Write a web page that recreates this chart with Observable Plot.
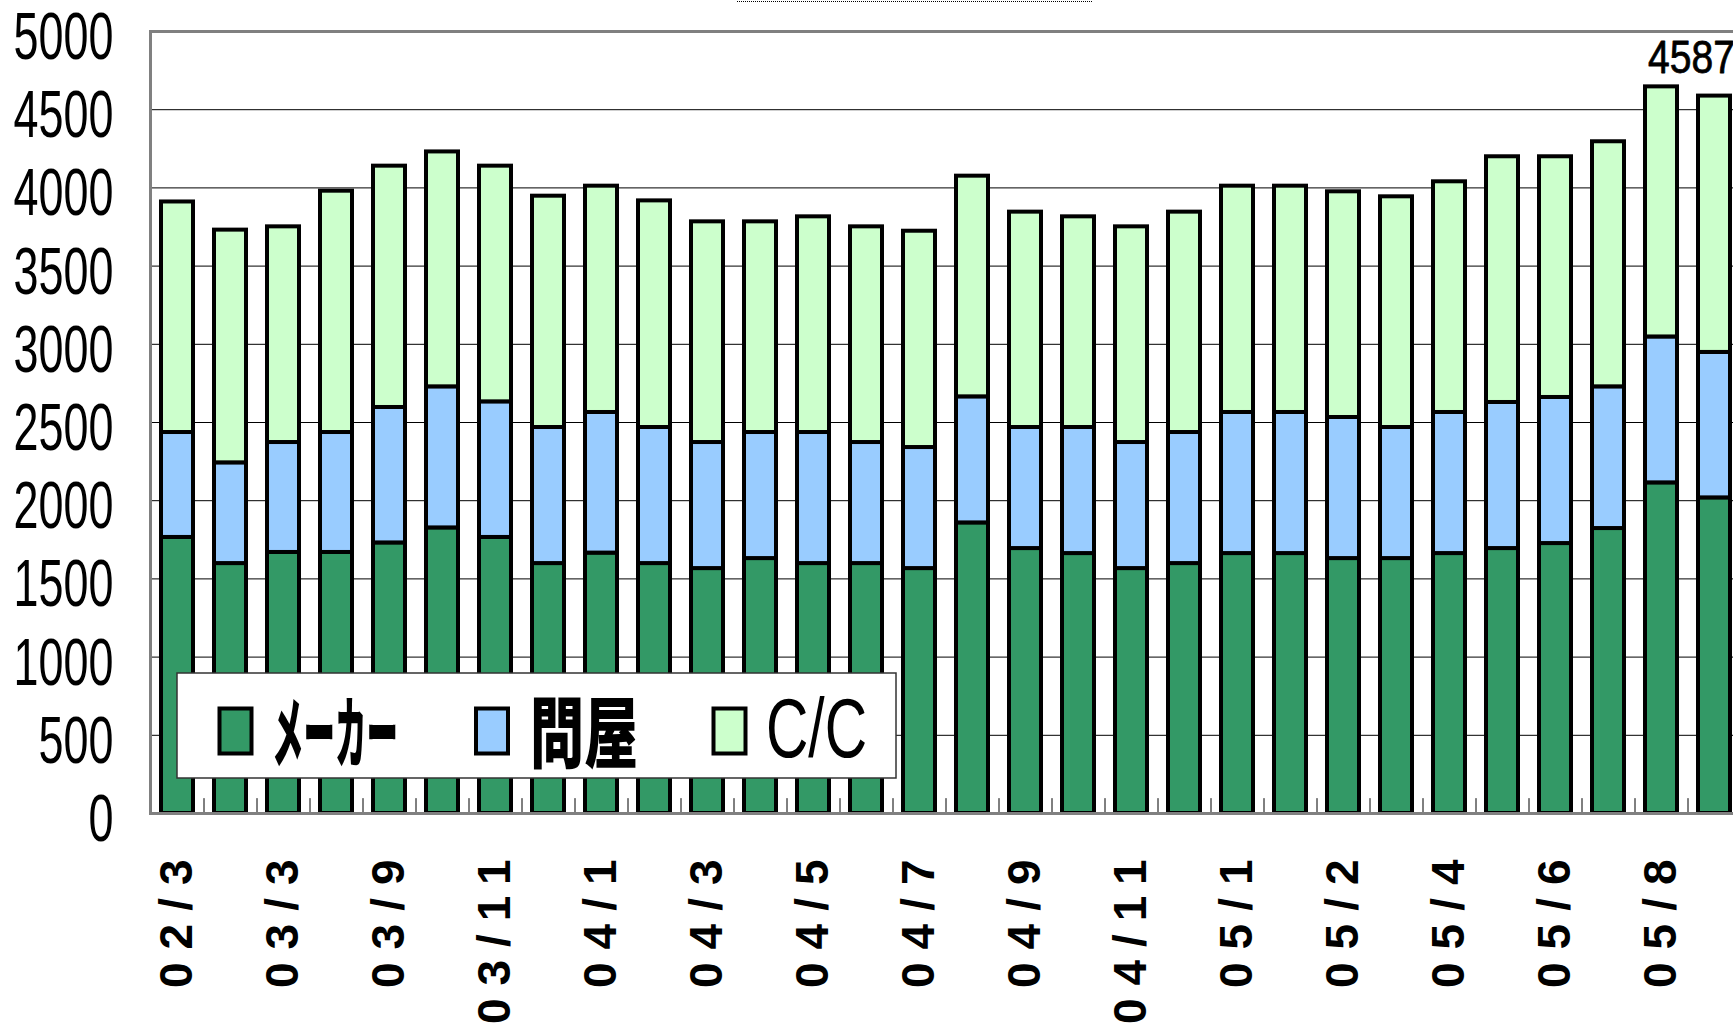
<!DOCTYPE html>
<html><head><meta charset="utf-8">
<script src="https://cdn.jsdelivr.net/npm/d3@7"></script>
<script src="https://cdn.jsdelivr.net/npm/@observablehq/plot@0.6"></script>
<style>
html,body{margin:0;padding:0;background:#fff;overflow:hidden;width:1733px;height:1028px;}
#wrap{position:relative;width:1733px;height:1028px;overflow:hidden;}
#titlebox{position:absolute;left:737px;top:-30px;width:355px;height:32px;border:1.5px dotted #000;box-sizing:border-box;z-index:2;}
</style></head><body><div id="wrap"><div id="titlebox"></div></div>
<script>
// ---- data ----
const tickLabels = ["02/3","","03/3","","03/9","","03/11","","04/1","","04/3","","04/5","","04/7","","04/9","","04/11","","05/1","","05/2","","05/4","","05/6","","05/8",""];
const series = ["メーカー","問屋","C/C"];
const colors = ["#339966","#99CCFF","#CCFFCC"];
const maker = [1765,1598,1669,1669,1730,1826,1765,1598,1665,1598,1566,1630,1598,1598,1566,1858,1694,1662,1566,1598,1662,1662,1630,1630,1662,1694,1726,1822,2114,2018];
const tonya = [671,644,703,767,866,902,867,870,899,870,806,806,838,774,774,806,774,806,806,838,902,902,902,838,902,934,934,906,933,930];
const cc    = [1474,1488,1379,1543,1543,1502,1507,1479,1447,1449,1411,1347,1379,1379,1383,1411,1377,1347,1379,1409,1447,1447,1443,1475,1475,1571,1539,1567,1599,1639];
const yTicks = [0,500,1000,1500,2000,2500,3000,3500,4000,4500,5000];
const labelIndex = 29;
const labelText = "4587";

// ---- build ----
const idx = d3.range(tickLabels.length);
const values = [maker, tonya, cc];
const rows = idx.flatMap(i => series.map((s, k) => ({i, s, v: values[k][i]})));
const totals = idx.map(i => maker[i] + tonya[i] + cc[i]);
const latin = "Liberation Sans, Arial, sans-serif";

const chart = Plot.plot({
  width: 1745, height: 1028,
  marginLeft: 150, marginRight: 5, marginTop: 31, marginBottom: 215,
  style: {maxWidth: "none", background: "white"},
  x: {type: "band", domain: idx, paddingInner: 0.4, paddingOuter: 0.2, align: 0.5},
  y: {domain: [0, 5000]},
  color: {domain: series, range: colors},
  marks: [
    Plot.ruleY(yTicks.filter(t => t > 0 && t < 5000), {stroke: "#000", strokeWidth: 1}),
    Plot.barY(rows, {x: "i", y: "v", fill: "s", stroke: "#000", strokeWidth: 4}),
    Plot.ruleX(idx, {x: d => d, y1: 0, y2: 95, dx: 26.5, stroke: "#000", strokeWidth: 1}),
    Plot.frame({stroke: "#808080", strokeWidth: 3}),
    Plot.axisY({ticks: yTicks, tickFormat: d => String(d), label: null, tickSize: 0, tickPadding: 37, fontSize: 67, fontFamily: latin, dy: 6}),
    Plot.axisX({ticks: idx.filter(i => tickLabels[i] !== ""), tickFormat: i => tickLabels[i], label: null, tickSize: 0, tickPadding: 33, tickRotate: -90, fontSize: 46, fontWeight: "bold", fontFamily: latin}),
    Plot.text([labelIndex], {x: d => d, y: d => totals[d], text: () => labelText, dx: -23, dy: -38, fontSize: 47, fontFamily: latin, fill: "#000", stroke: "#000", strokeWidth: 0.8})
  ]
});
document.getElementById("wrap").appendChild(chart);

const svg = d3.select(chart);
function condense(sel, factor) {
  sel.each(function() {
    const len = this.getComputedTextLength();
    this.setAttribute("textLength", (len * factor).toFixed(1));
    this.setAttribute("lengthAdjust", "spacingAndGlyphs");
  });
}
condense(svg.selectAll('g[aria-label="y-axis tick label"] text'), 0.67);
svg.selectAll('g[aria-label="x-axis tick label"] text').style("letter-spacing", "13px");
condense(svg.selectAll('g[aria-label="text"] text'), 0.83);

// ---- legend ----
const lg = svg.append("g").attr("class", "legend").attr("text-anchor", "start");
lg.append("rect").attr("x", 177).attr("y", 673).attr("width", 719).attr("height", 105)
  .attr("fill", "white").attr("stroke", "#333").attr("stroke-width", 1.5);
const swX = [219.5, 476, 713.5];
const txX = [272, 530, 766];
const txW = [126, 108, 101];
series.forEach((s, k) => {
  lg.append("rect").attr("x", swX[k]).attr("y", 708.5).attr("width", 32).attr("height", 45)
    .attr("fill", colors[k]).attr("stroke", "#000").attr("stroke-width", 4);
  lg.append("text").attr("x", txX[k]).attr("y", 728).attr("dominant-baseline", "central")
    .attr("text-anchor", "start")
    .attr("font-family", k === 2 ? latin : "Noto Sans CJK JP, sans-serif")
    .attr("font-weight", k === 2 ? "normal" : "900")
    .attr("font-size", k === 2 ? 84 : 78)
    .attr("textLength", txW[k]).attr("lengthAdjust", "spacingAndGlyphs")
    .attr("fill", "#000").text(s);
});
</script></body></html>
